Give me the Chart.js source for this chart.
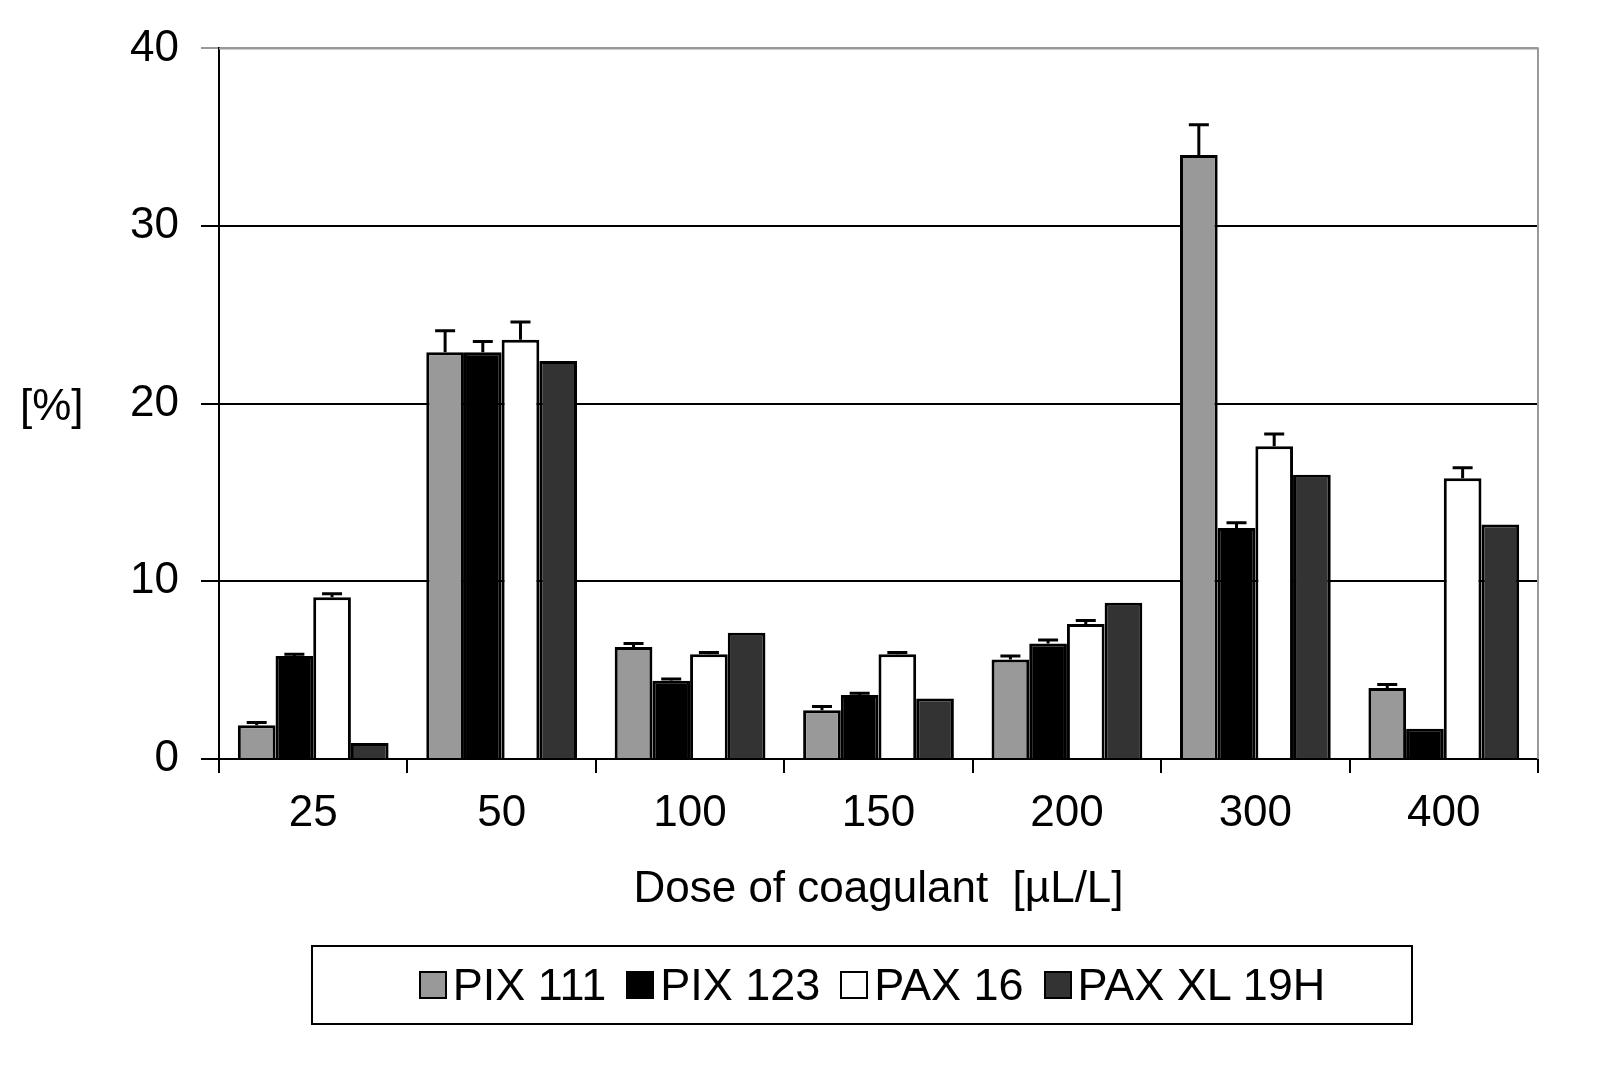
<!DOCTYPE html>
<html>
<head>
<meta charset="utf-8">
<script src="https://cdn.jsdelivr.net/npm/chart.js@4"></script>
<style>
body { margin: 0; background: #fff; font-family: "Liberation Sans", Arial, sans-serif; }
#wrap { position: relative; width: 1610px; height: 1080px; }
#ylab { position: absolute; left: 20px; top: 380px; font-size: 44px; }
#legend { position: absolute; left: 311px; top: 945px; width: 1102px; height: 80px; border: 2px solid #000;
  box-sizing: border-box; display: flex; align-items: center; justify-content: center; font-size: 45px; }
#legend span.sw { display: inline-block; width: 28px; height: 28px; border: 2px solid #000; box-sizing: border-box; margin: 0 6px 0 20px; }
</style>
</head>
<body>
<div id="wrap">
<canvas id="c" width="1610" height="1080"></canvas>
<div id="ylab">[%]</div>
<div id="legend"></div>
</div>
<script>
const doses = ["25", "50", "100", "150", "200", "300", "400"];
const seriesNames = ["PIX 111", "PIX 123", "PAX 16", "PAX XL 19H"];
const colors = ["#999999", "#000000", "#ffffff", "#333333"];
const pix111 = [1.9, 22.9, 6.3, 2.75, 5.6, 34.0, 4.0];
const pix123 = [5.8, 22.9, 4.4, 3.6, 6.5, 13.0, 1.7];
const pax16 = [9.1, 23.6, 5.9, 5.9, 7.6, 17.6, 15.8];
const paxXL = [0.9, 22.4, 7.1, 3.4, 8.8, 16.0, 13.2];
const err111 = [0.15, 1.2, 0.2, 0.2, 0.2, 1.7, 0.2];
const err123 = [0.1, 0.6, 0.1, 0.1, 0.2, 0.3, 0];
const err16 = [0.2, 1.0, 0.1, 0.1, 0.2, 0.7, 0.6];
const errXL = [0, 0, 0, 0, 0, 0, 0];
const yTicks = [0, 10, 20, 30, 40];

const values = [pix111, pix123, pax16, paxXL];
const errors = [err111, err123, err16, errXL];

const legend = document.getElementById("legend");
seriesNames.forEach((n, i) => {
    legend.innerHTML += '<span class="sw" style="background:' + colors[i] + '"></span>' + n;
});

const errorBars = {
    id: "errorBars",
    afterDatasetsDraw(chart) {
        const ctx = chart.ctx, y = chart.scales.y;
        ctx.save();
        ctx.strokeStyle = "#000";
        ctx.lineWidth = 3;
        chart.data.datasets.forEach((ds, di) => {
            chart.getDatasetMeta(di).data.forEach((bar, i) => {
                const e = errors[di][i];
                if (!e) return;
                const top = y.getPixelForValue(ds.data[i] + e);
                ctx.beginPath();
                ctx.moveTo(bar.x, bar.y);
                ctx.lineTo(bar.x, top);
                ctx.moveTo(bar.x - 10, top);
                ctx.lineTo(bar.x + 10, top);
                ctx.stroke();
            });
        });
        const a = chart.chartArea;
        ctx.strokeStyle = "#999";
        ctx.lineWidth = 2;
        ctx.beginPath();
        ctx.moveTo(a.left, a.top);
        ctx.lineTo(a.right, a.top);
        ctx.lineTo(a.right, a.bottom);
        ctx.stroke();
        ctx.restore();
    }
};

new Chart(document.getElementById("c").getContext("2d"), {
    type: "bar",
    data: {
        labels: doses,
        datasets: seriesNames.map((n, i) => ({
            label: n,
            data: values[i],
            backgroundColor: colors[i],
            borderColor: "#000",
            borderWidth: 3
        }))
    },
    options: {
        responsive: false,
        animation: false,
        events: [],
        layout: { padding: { left: 0, right: 72, top: 46, bottom: 160 } },
        plugins: { legend: { display: false }, tooltip: { enabled: false } },
        datasets: { bar: { categoryPercentage: 0.8, barPercentage: 1.0 } },
        scales: {
            x: {
                afterFit: s => { s.height = 161; },
                grid: { display: true, drawOnChartArea: false, color: "#000", tickLength: 14, lineWidth: 2 },
                border: { color: "#000", width: 2 },
                ticks: { color: "#000", font: { family: "Liberation Sans", size: 44 }, padding: 14 },
                title: { display: true, text: "Dose of coagulant  [µL/L]", color: "#000",
                         font: { family: "Liberation Sans", size: 44 }, padding: { top: 6 } }
            },
            y: {
                min: 0, max: 40,
                afterFit: s => { s.width = 219; },
                afterBuildTicks: s => { s.ticks = yTicks.map(v => ({ value: v })); },
                grid: { color: c => c.tick && c.tick.value === 40 ? "#999" : "#000", lineWidth: 2, tickLength: 18 },
                border: { color: "#000", width: 2 },
                ticks: { color: "#000", font: { family: "Liberation Sans", size: 44 }, padding: 22 }
            }
        }
    },
    plugins: [errorBars]
});
</script>
</body>
</html>
